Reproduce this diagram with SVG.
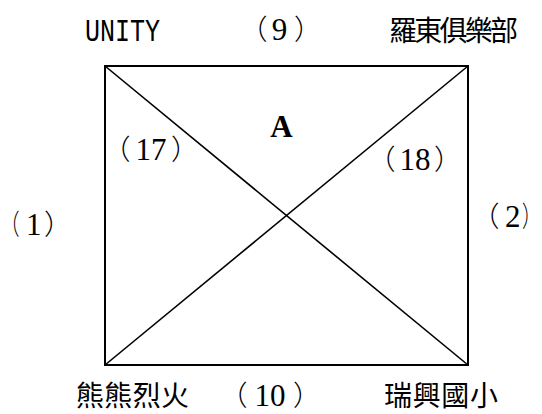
<svg xmlns="http://www.w3.org/2000/svg" width="542" height="414" viewBox="0 0 542 414">
<style>
.t{font-family:"Liberation Serif","Noto Sans CJK TC",serif;font-size:31px;fill:#000}
.p{font-family:"Noto Sans CJK TC",sans-serif;font-size:28px;font-weight:300}
.cjk{font-family:"Noto Sans CJK TC",sans-serif;font-size:28px;fill:#000}
.mono{font-family:"Liberation Mono",monospace;font-size:31px;fill:#000}
.a{font-family:"Liberation Serif",serif;font-size:31px;font-weight:bold;fill:#000}
.ln{stroke:#000;fill:none}
</style>
<rect width="542" height="414" fill="#fff"/>
<g id="connectors">
<rect class="ln" x="105" y="66" width="363" height="299" stroke-width="2"/>
<line class="ln" x1="105" y1="66" x2="468" y2="365" stroke-width="1.6"/>
<line class="ln" x1="468" y1="66" x2="105" y2="365" stroke-width="1.6"/>
</g>
<g id="n-unity"><text class="mono" x="85" y="41" textLength="75" lengthAdjust="spacingAndGlyphs">UNITY</text></g>
<g id="n-9"><text class="t" y="40"><tspan class="p" x="239.6">（</tspan><tspan x="271.7">9</tspan><tspan class="p" x="294">）</tspan></text></g>
<g id="n-luodong"><text class="cjk" x="389" y="41" textLength="129" lengthAdjust="spacing">羅東俱樂部</text></g>
<g id="n-A"><text class="a" x="281.5" y="137" text-anchor="middle">A</text></g>
<g id="n-17"><text class="t" y="160"><tspan class="p" x="102.6">（</tspan><tspan x="135.6">17</tspan><tspan class="p" x="171">）</tspan></text></g>
<g id="n-18"><text class="t" y="170"><tspan class="p" x="367.6">（</tspan><tspan x="399.6">18</tspan><tspan class="p" x="434">）</tspan></text></g>
<g id="n-1"><text class="t p" transform="translate(0,234.5) scale(0.7,1)">（</text><text class="t" x="26" y="234.5">1<tspan class="p" x="44">）</tspan></text></g>
<g id="n-2"><text class="t" y="226.5"><tspan class="p" x="471.6">（</tspan><tspan x="505">2</tspan></text><text class="t p" transform="translate(522,226.5) scale(0.68,1)">）</text></g>
<g id="n-fire"><text class="cjk" x="76" y="406" textLength="113" lengthAdjust="spacing">熊熊烈火</text></g>
<g id="n-10"><text class="t" y="406"><tspan class="p" x="219.6">（</tspan><tspan x="254.6">10</tspan><tspan class="p" x="293">）</tspan></text></g>
<g id="n-ruixing"><text class="cjk" x="384" y="406" textLength="114" lengthAdjust="spacing">瑞興國小</text></g>
</svg>
